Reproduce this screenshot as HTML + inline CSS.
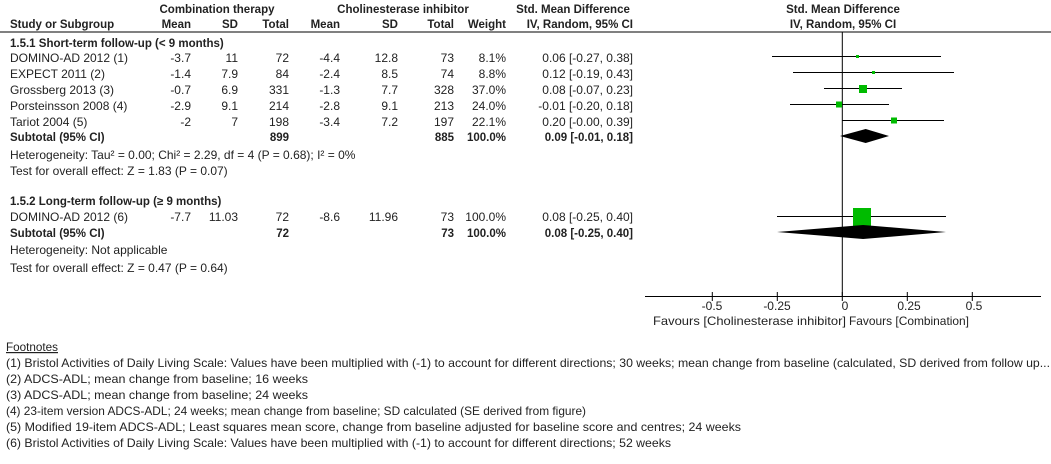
<!DOCTYPE html>
<html><head><meta charset="utf-8"><style>
html,body{margin:0;padding:0;background:#fff}
svg{display:block}
text{font-family:"Liberation Sans",Arial,sans-serif;font-size:12px;fill:#222}
.b{font-weight:bold;font-size:11.5px}
.r{text-anchor:end}
.m{text-anchor:middle}
</style></head><body>
<svg width="1051" height="464" viewBox="0 0 1051 464" xmlns="http://www.w3.org/2000/svg">
<text class="b m" x="217" y="13">Combination therapy</text>
<text class="b m" x="403" y="13">Cholinesterase inhibitor</text>
<text class="b m" x="573" y="13">Std. Mean Difference</text>
<text class="b m" x="843" y="13">Std. Mean Difference</text>
<text class="b" x="10" y="28">Study or Subgroup</text>
<text class="b r" x="191" y="28">Mean</text>
<text class="b r" x="238" y="28">SD</text>
<text class="b r" x="289" y="28">Total</text>
<text class="b r" x="340" y="28">Mean</text>
<text class="b r" x="398" y="28">SD</text>
<text class="b r" x="454" y="28">Total</text>
<text class="b r" x="506" y="28">Weight</text>
<text class="b r" x="633" y="28">IV, Random, 95% CI</text>
<text class="b m" x="843" y="28">IV, Random, 95% CI</text>
<line x1="0" y1="32" x2="1051" y2="32" stroke="#000" stroke-width="1"/>

<text class="b" x="10" y="47">1.5.1 Short-term follow-up (&lt; 9 months)</text>
<g>
<text x="10" y="62">DOMINO-AD 2012 (1)</text><text class="r" x="191" y="62">-3.7</text><text class="r" x="238" y="62">11</text><text class="r" x="289" y="62">72</text><text class="r" x="340" y="62">-4.4</text><text class="r" x="398" y="62">12.8</text><text class="r" x="454" y="62">73</text><text class="r" x="506" y="62">8.1%</text><text class="r" x="633" y="62">0.06 [-0.27, 0.38]</text>
<text x="10" y="78">EXPECT 2011 (2)</text><text class="r" x="191" y="78">-1.4</text><text class="r" x="238" y="78">7.9</text><text class="r" x="289" y="78">84</text><text class="r" x="340" y="78">-2.4</text><text class="r" x="398" y="78">8.5</text><text class="r" x="454" y="78">74</text><text class="r" x="506" y="78">8.8%</text><text class="r" x="633" y="78">0.12 [-0.19, 0.43]</text>
<text x="10" y="94">Grossberg 2013 (3)</text><text class="r" x="191" y="94">-0.7</text><text class="r" x="238" y="94">6.9</text><text class="r" x="289" y="94">331</text><text class="r" x="340" y="94">-1.3</text><text class="r" x="398" y="94">7.7</text><text class="r" x="454" y="94">328</text><text class="r" x="506" y="94">37.0%</text><text class="r" x="633" y="94">0.08 [-0.07, 0.23]</text>
<text x="10" y="110">Porsteinsson 2008 (4)</text><text class="r" x="191" y="110">-2.9</text><text class="r" x="238" y="110">9.1</text><text class="r" x="289" y="110">214</text><text class="r" x="340" y="110">-2.8</text><text class="r" x="398" y="110">9.1</text><text class="r" x="454" y="110">213</text><text class="r" x="506" y="110">24.0%</text><text class="r" x="633" y="110">-0.01 [-0.20, 0.18]</text>
<text x="10" y="126">Tariot 2004 (5)</text><text class="r" x="191" y="126">-2</text><text class="r" x="238" y="126">7</text><text class="r" x="289" y="126">198</text><text class="r" x="340" y="126">-3.4</text><text class="r" x="398" y="126">7.2</text><text class="r" x="454" y="126">197</text><text class="r" x="506" y="126">22.1%</text><text class="r" x="633" y="126">0.20 [-0.00, 0.39]</text>
<text class="b" x="10" y="141">Subtotal (95% CI)</text><text class="b r" x="289" y="141">899</text><text class="b r" x="454" y="141">885</text><text class="b r" x="506" y="141">100.0%</text><text class="b r" x="633" y="141">0.09 [-0.01, 0.18]</text>
<text x="10" y="159">Heterogeneity: Tau² = 0.00; Chi² = 2.29, df = 4 (P = 0.68); I² = 0%</text>
<text x="10" y="175">Test for overall effect: Z = 1.83 (P = 0.07)</text>

<text class="b" x="10" y="205">1.5.2 Long-term follow-up (≥ 9 months)</text>
<text x="10" y="221">DOMINO-AD 2012 (6)</text><text class="r" x="191" y="221">-7.7</text><text class="r" x="238" y="221">11.03</text><text class="r" x="289" y="221">72</text><text class="r" x="340" y="221">-8.6</text><text class="r" x="398" y="221">11.96</text><text class="r" x="454" y="221">73</text><text class="r" x="506" y="221">100.0%</text><text class="r" x="633" y="221">0.08 [-0.25, 0.40]</text>
<text class="b" x="10" y="237">Subtotal (95% CI)</text><text class="b r" x="289" y="237">72</text><text class="b r" x="454" y="237">73</text><text class="b r" x="506" y="237">100.0%</text><text class="b r" x="633" y="237">0.08 [-0.25, 0.40]</text>
<text x="10" y="254">Heterogeneity: Not applicable</text>
<text x="10" y="272">Test for overall effect: Z = 0.47 (P = 0.64)</text>
</g>

<line x1="842.3" y1="32" x2="842.3" y2="297" stroke="#000"/>
<g stroke="#000" stroke-width="1">
<line x1="772" y1="56.5" x2="941" y2="56.5"/>
<line x1="793" y1="72.5" x2="954" y2="72.5"/>
<line x1="824" y1="88.5" x2="902" y2="88.5"/>
<line x1="790" y1="104.5" x2="889" y2="104.5"/>
<line x1="842" y1="120.5" x2="944" y2="120.5"/>
<line x1="777" y1="216.5" x2="946" y2="216.5"/>
</g>
<g fill="#00bb00">
<rect x="856" y="55" width="3" height="3"/>
<rect x="872" y="71" width="3" height="3"/>
<rect x="859" y="85" width="8" height="8"/>
<rect x="836" y="101.5" width="6" height="6"/>
<rect x="891" y="117.5" width="6" height="6"/>
<rect x="853" y="208" width="18" height="18"/>
</g>
<polygon points="840,136 865.7,129 889,136 865.7,143" fill="#000"/>
<polygon points="777,232 863.1,225 946,232 863.1,239" fill="#000"/>
<line x1="645" y1="296.5" x2="1041" y2="296.5" stroke="#000"/>
<g stroke="#000">
<line x1="712.3" y1="292" x2="712.3" y2="301"/>
<line x1="777.3" y1="292" x2="777.3" y2="301"/>
<line x1="842.3" y1="292" x2="842.3" y2="301"/>
<line x1="907.3" y1="292" x2="907.3" y2="301"/>
<line x1="972.3" y1="292" x2="972.3" y2="301"/>
</g>
<text class="m" x="712" y="310">-0.5</text>
<text class="m" x="777" y="310">-0.25</text>
<text class="m" x="845" y="310">0</text>
<text class="m" x="909" y="310">0.25</text>
<text class="m" x="974" y="310">0.5</text>
<text x="653" y="325" textLength="193" lengthAdjust="spacingAndGlyphs">Favours [Cholinesterase inhibitor]</text>
<text x="849" y="325" textLength="120" lengthAdjust="spacingAndGlyphs">Favours [Combination]</text>

<text x="6" y="351" text-decoration="underline" textLength="52" lengthAdjust="spacingAndGlyphs">Footnotes</text>
<text x="6" y="367" textLength="1044" lengthAdjust="spacingAndGlyphs">(1) Bristol Activities of Daily Living Scale: Values have been multiplied with (-1) to account for different directions; 30 weeks; mean change from baseline (calculated, SD derived from follow up...</text>
<text x="6" y="383" textLength="302" lengthAdjust="spacingAndGlyphs">(2) ADCS-ADL; mean change from baseline; 16 weeks</text>
<text x="6" y="399" textLength="302" lengthAdjust="spacingAndGlyphs">(3) ADCS-ADL; mean change from baseline; 24 weeks</text>
<text x="6" y="415" textLength="580" lengthAdjust="spacingAndGlyphs">(4) 23-item version ADCS-ADL; 24 weeks; mean change from baseline; SD calculated (SE derived from figure)</text>
<text x="6" y="431" textLength="735" lengthAdjust="spacingAndGlyphs">(5) Modified 19-item ADCS-ADL; Least squares mean score, change from baseline adjusted for baseline score and centres; 24 weeks</text>
<text x="6" y="447" textLength="665" lengthAdjust="spacingAndGlyphs">(6) Bristol Activities of Daily Living Scale: Values have been multiplied with (-1) to account for different directions; 52 weeks</text>
</svg>
</body></html>
